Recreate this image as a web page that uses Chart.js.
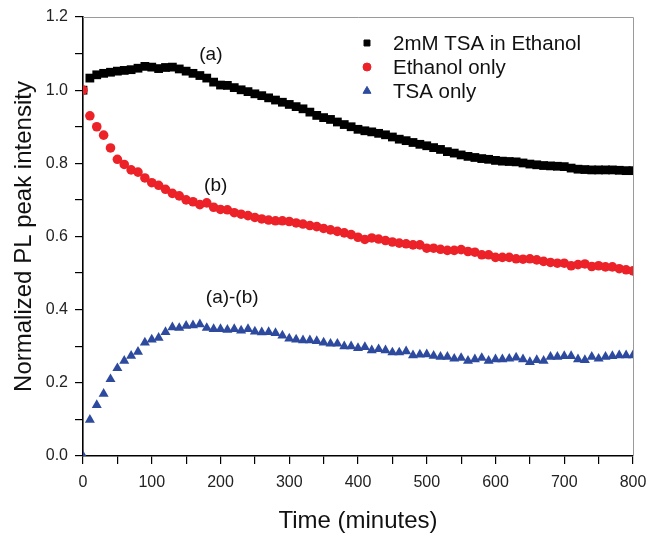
<!DOCTYPE html>
<html>
<head>
<meta charset="utf-8">
<script src="https://cdn.jsdelivr.net/npm/chart.js@4"></script>
<style>
  html, body { margin: 0; padding: 0; background: #fff; }
  #wrap { width: 648px; height: 537px; }
</style>
</head>
<body>
<div id="wrap"><canvas id="chart" width="648" height="537"></canvas></div>
<script>
// time axis (minutes)
const timeMin = [
  0, 10, 20, 30, 40, 50, 60, 70, 80, 90, 100, 110, 120, 130, 140, 150, 160, 170, 180, 190,
  200, 210, 220, 230, 240, 250, 260, 270, 280, 290, 300, 310, 320, 330, 340, 350, 360, 370, 380, 390,
  400, 410, 420, 430, 440, 450, 460, 470, 480, 490, 500, 510, 520, 530, 540, 550, 560, 570, 580, 590,
  600, 610, 620, 630, 640, 650, 660, 670, 680, 690, 700, 710, 720, 730, 740, 750, 760, 770, 780, 790,
  800
];

// (a) 2mM TSA in Ethanol
const tsaEthanol = [
  1.0, 1.033, 1.042, 1.046, 1.049, 1.052, 1.054, 1.056, 1.06, 1.065, 1.063, 1.059, 1.062, 1.063, 1.058, 1.052, 1.046, 1.04, 1.033, 1.022,
  1.014, 1.013, 1.007, 1.001, 0.996, 0.99, 0.985, 0.979, 0.973, 0.967, 0.961, 0.955, 0.949, 0.94, 0.931, 0.925, 0.92, 0.913, 0.906, 0.9,
  0.893, 0.889, 0.886, 0.882, 0.878, 0.872, 0.866, 0.862, 0.857, 0.852, 0.848, 0.843, 0.838, 0.832, 0.828, 0.823, 0.819, 0.816, 0.813, 0.811,
  0.808, 0.806, 0.805, 0.804, 0.801, 0.798, 0.796, 0.794, 0.793, 0.792, 0.791, 0.787, 0.784, 0.783, 0.782, 0.782, 0.782, 0.782, 0.781, 0.78,
  0.78
];

// (b) Ethanol only
const ethanolOnly = [
  1.0, 0.93, 0.9, 0.877, 0.842, 0.811, 0.797, 0.782, 0.776, 0.76, 0.747, 0.74, 0.729, 0.718, 0.711, 0.7, 0.695, 0.687, 0.692, 0.68,
  0.674, 0.673, 0.665, 0.661, 0.657, 0.652, 0.648, 0.645, 0.643, 0.643, 0.641, 0.637, 0.634, 0.63, 0.627, 0.622, 0.618, 0.614, 0.61, 0.605,
  0.598, 0.592, 0.596, 0.593, 0.589, 0.585, 0.582, 0.58, 0.577, 0.577, 0.568, 0.568, 0.565, 0.562, 0.562, 0.564, 0.559, 0.557, 0.55, 0.55,
  0.543, 0.543, 0.543, 0.539, 0.538, 0.539, 0.536, 0.532, 0.529, 0.527, 0.527, 0.52, 0.523, 0.525, 0.518, 0.52, 0.517, 0.517, 0.512, 0.509,
  0.506
];

// (a)-(b) TSA only
const tsaOnly = [
  0.0, 0.099, 0.139, 0.17, 0.21, 0.24, 0.26, 0.274, 0.285, 0.31, 0.318, 0.323, 0.339, 0.352, 0.35, 0.356, 0.357, 0.36, 0.35, 0.347,
  0.347, 0.345, 0.347, 0.343, 0.347, 0.34, 0.338, 0.339, 0.336, 0.329, 0.321, 0.318, 0.316, 0.316, 0.314, 0.31, 0.307, 0.307, 0.3, 0.3,
  0.295, 0.298, 0.289, 0.292, 0.289, 0.283, 0.283, 0.286, 0.275, 0.277, 0.278, 0.274, 0.271, 0.271, 0.266, 0.268, 0.26, 0.264, 0.268, 0.26,
  0.264, 0.264, 0.266, 0.269, 0.264, 0.257, 0.262, 0.26, 0.271, 0.271, 0.273, 0.273, 0.264, 0.262, 0.271, 0.266, 0.271, 0.273, 0.275, 0.275,
  0.275
];

const seriesLabels = ["2mM TSA in Ethanol", "Ethanol only", "TSA only"];
const curveNotes = [
  { text: "(a)", x: 186, y: 1.096 },
  { text: "(b)", x: 193, y: 0.738 },
  { text: "(a)-(b)", x: 217, y: 0.432 },
];

const FONT = "'Liberation Sans', Arial, sans-serif";

function toPoints(ys) {
  return ys.map((y, i) => ({ x: timeMin[i], y: y }));
}

// frame on top/right, curve notes and in-plot legend
const decorPlugin = {
  id: "decor",
  afterDatasetsDraw(chart) {
    const ctx = chart.ctx;
    const xs = chart.scales.x;
    const ys = chart.scales.y;
    ctx.save();
    ctx.font = "19px " + FONT;
    ctx.fillStyle = "#111";
    ctx.textAlign = "center";
    ctx.textBaseline = "middle";
    curveNotes.forEach((n) => {
      ctx.fillText(n.text, xs.getPixelForValue(n.x), ys.getPixelForValue(n.y));
    });
    ctx.restore();
  },
  afterDraw(chart) {
    const ctx = chart.ctx;
    const a = chart.chartArea;
    ctx.save();
    ctx.strokeStyle = "#9a9a9a";
    ctx.lineWidth = 1;
    ctx.beginPath();
    ctx.moveTo(a.left, a.top + 0.5);
    ctx.lineTo(a.right + 0.5, a.top + 0.5);
    ctx.lineTo(a.right + 0.5, a.bottom);
    ctx.stroke();

    // legend
    const lx = 367, tx = 393, ly0 = 43, dy = 24;
    ctx.font = "20.5px " + FONT;
    ctx.textAlign = "left";
    ctx.textBaseline = "middle";
    chart.data.datasets.forEach((ds, i) => {
      const y = ly0 + i * dy;
      ctx.fillStyle = ds.pointBackgroundColor;
      ctx.strokeStyle = ds.pointBackgroundColor;
      ctx.lineWidth = 1;
      Chart.helpers.drawPoint(ctx, { pointStyle: ds.pointStyle, radius: ds.legendRadius, rotation: 0, borderWidth: 1 }, lx, y);
      ctx.fillStyle = "#111";
      ctx.fillText(seriesLabels[i], tx, y + 1);
    });
    ctx.restore();
  },
};

new Chart(document.getElementById("chart"), {
  type: "scatter",
  data: {
    datasets: [
      {
        label: seriesLabels[0],
        data: toPoints(tsaEthanol),
        pointStyle: "rect",
        pointRadius: 6.2,
        legendRadius: 4.2,
        pointBackgroundColor: "#000000",
        pointBorderColor: "#000000",
        pointBorderWidth: 0,
        order: 1,
        clip: 0,
      },
      {
        label: seriesLabels[1],
        data: toPoints(ethanolOnly),
        pointStyle: "circle",
        pointRadius: 4.8,
        legendRadius: 4,
        pointBackgroundColor: "#ec2228",
        pointBorderColor: "#ec2228",
        pointBorderWidth: 0,
        order: 0,
        clip: 0,
      },
      {
        label: seriesLabels[2],
        data: toPoints(tsaOnly),
        pointStyle: "triangle",
        pointRadius: 5.8,
        legendRadius: 4.6,
        pointBackgroundColor: "#2d4a9e",
        pointBorderColor: "#2d4a9e",
        pointBorderWidth: 0,
        order: 2,
        clip: 0,
      },
    ],
  },
  options: {
    responsive: false,
    animation: false,
    events: [],
    layout: { padding: { left: 10, right: 0, top: 17, bottom: 0 } },
    plugins: {
      legend: { display: false },
      tooltip: { enabled: false },
    },
    scales: {
      x: {
        type: "linear",
        min: 0,
        max: 800,
        afterFit: (s) => { s.height = 81; s.paddingRight = 15; },
        border: { color: "#000", width: 1.6 },
        grid: { drawOnChartArea: false, tickLength: 8, color: "#000", lineWidth: 1.2 },
        ticks: {
          stepSize: 50,
          padding: 9,
          color: "#222",
          font: { family: FONT, size: 16 },
          maxRotation: 0,
          autoSkip: false,
          callback: (v) => (Math.round(v) % 100 === 0 ? String(Math.round(v)) : ""),
        },
        title: {
          display: true,
          text: "Time (minutes)",
          color: "#111",
          font: { family: FONT, size: 24 },
          padding: { top: 0, bottom: 1 },
        },
      },
      y: {
        type: "linear",
        min: 0,
        max: 1.2,
        afterFit: (s) => { s.width = 73; },
        border: { color: "#000", width: 1.6 },
        grid: { drawOnChartArea: false, tickLength: 8, color: "#000", lineWidth: 1.2 },
        ticks: {
          stepSize: 0.1,
          padding: 7,
          color: "#222",
          font: { family: FONT, size: 16 },
          autoSkip: false,
          callback: (v) => (Math.round(v * 10) % 2 === 0 ? (Math.round(v * 10) / 10).toFixed(1) : ""),
        },
        title: {
          display: true,
          text: "Normalized PL peak intensity",
          color: "#111",
          font: { family: FONT, size: 24 },
          padding: { top: 0, bottom: 0 },
        },
      },
    },
  },
  plugins: [decorPlugin],
});
</script>
</body>
</html>
